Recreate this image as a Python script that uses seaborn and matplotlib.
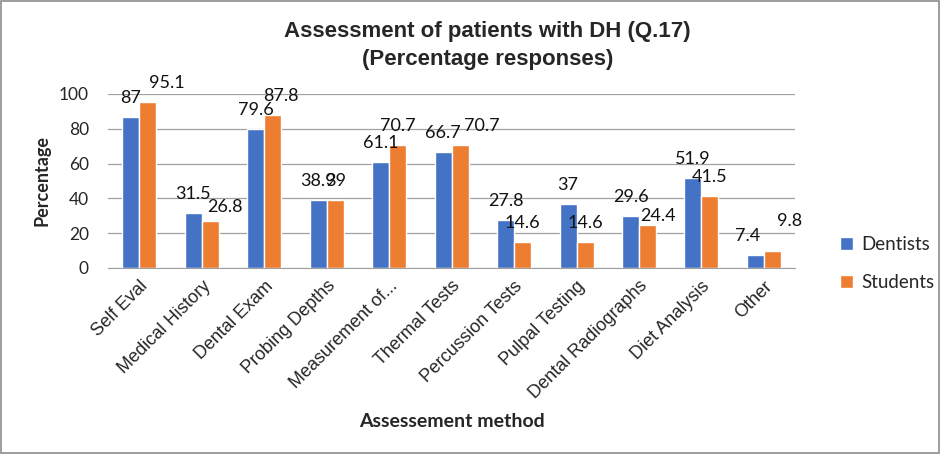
import pandas as pd
import numpy as np
import matplotlib.pyplot as plt
import seaborn as sns
from matplotlib.patches import Rectangle

# values
methods = ['Self Eval', 'Medical History', 'Dental Exam', 'Probing Depths',
           'Measurement of...', 'Thermal Tests', 'Percussion Tests',
           'Pulpal Testing', 'Dental Radiographs', 'Diet Analysis', 'Other']
dentists = [87, 31.5, 79.6, 38.9, 61.1, 66.7, 27.8, 37, 29.6, 51.9, 7.4]
students = [95.1, 26.8, 87.8, 39, 70.7, 70.7, 14.6, 14.6, 24.4, 41.5, 9.8]
groups = ['Dentists', 'Students']

# hand-placed data labels in the original (pixel nudges: dx, dy)
label_nudge = {
    ('Students', 'Self Eval'): (19, 0),
    ('Students', 'Medical History'): (15, -5),
    ('Students', 'Dental Exam'): (8, 0),
    ('Students', 'Thermal Tests'): (22, 0),
    ('Students', 'Dental Radiographs'): (10, -10),
    ('Students', 'Other'): (17, 11),
    ('Dentists', 'Other'): (-8, 0),
}

df = pd.DataFrame({
    'Method': methods * 2,
    'Value': dentists + students,
    'Group': ['Dentists'] * len(methods) + ['Students'] * len(methods),
})

sns.set_style('white')
plt.rcParams['font.family'] = ['Lato', 'DejaVu Sans']

fig = plt.figure(figsize=(9.41, 4.54), dpi=100)
ax = fig.add_axes([0.115, 0.41, 0.73, 0.383])

sns.barplot(data=df, x='Method', y='Value', hue='Group', order=methods,
            hue_order=groups, palette=['#4472C4', '#ED7D31'], saturation=1,
            width=0.545, gap=0, errorbar=None, ax=ax, legend=True)

px = 0.72  # points per pixel at dpi 100
for grp, cont in zip(groups, ax.containers):
    for bar, m, v in zip(cont, methods, cont.datavalues):
        dx, dy = label_nudge.get((grp, m), (0, 0))
        ax.annotate('%g' % v, xy=(bar.get_x() + bar.get_width() / 2, bar.get_height()),
                    xytext=(dx * px, (14 + dy) * px), textcoords='offset points',
                    ha='center', va='baseline', fontsize=13, color='#111111')

ax.set_ylim(0, 100)
ax.set_yticks(range(0, 101, 20))
ax.yaxis.grid(True, color='#A0A0A0', linewidth=0.9)
ax.set_axisbelow(True)
for s in ['top', 'right', 'left']:
    ax.spines[s].set_visible(False)
ax.spines['bottom'].set_color('#A0A0A0')
ax.tick_params(axis='y', labelsize=12.5, length=0, pad=14)
ax.tick_params(axis='x', length=0, pad=7)
plt.setp(ax.get_xticklabels(), rotation=45, ha='right', rotation_mode='anchor',
         fontsize=13, family=['Liberation Sans', 'DejaVu Sans'])

ax.set_xlabel('Assessement method', fontsize=14, fontweight='bold', labelpad=8)
ax.set_ylabel('Percentage', fontsize=13, fontweight='bold', labelpad=6)

ax.legend_.remove()
handles, labels = ax.get_legend_handles_labels()
fig.legend(handles, labels, loc='center left', bbox_to_anchor=(0.875, 0.42),
           frameon=False, fontsize=13.5, handlelength=0.7, handleheight=0.7,
           handletextpad=0.4, labelspacing=1.1)

fig.text(0.518, 0.930, 'Assessment of patients with DH (Q.17)',
         ha='center', va='center', fontsize=16, fontweight='bold',
         family=['Liberation Sans', 'DejaVu Sans'])
fig.text(0.518, 0.870, '(Percentage responses)',
         ha='center', va='center', fontsize=16, fontweight='bold',
         family=['Liberation Sans', 'DejaVu Sans'])

fig.patches.append(Rectangle((0.001, 0.002), 0.997, 0.995, transform=fig.transFigure,
                             fill=False, edgecolor='#8C8C8C', linewidth=1.2))

fig.savefig('out.png', dpi=100)
